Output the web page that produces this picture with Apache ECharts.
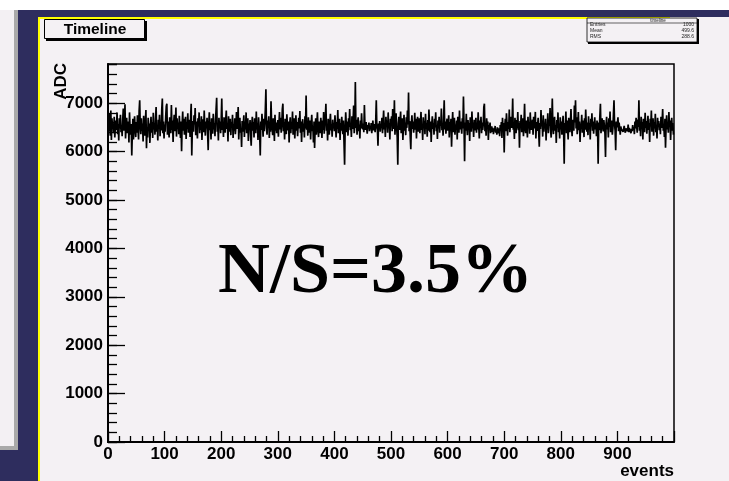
<!DOCTYPE html>
<html>
<head>
<meta charset="utf-8">
<script src="https://cdn.jsdelivr.net/npm/echarts@6/dist/echarts.min.js"></script>
<style>
  html, body { margin: 0; padding: 0; background: #f4f1f4; }
  #chart { width: 729px; height: 481px; }
</style>
</head>
<body>
<div id="chart"></div>
<script>
// ADC reading per event (one histogram bin per event)
const adcValues = [
  6610, 6420, 6780, 6550, 6330, 6850, 6240, 6690, 6470, 6580, 6380, 6720, 6290, 6510, 6640, 6450, 6810, 6360, 6570, 6230, 6690, 6480, 6760, 6400, 6550,
  6320, 6650, 6890, 6430, 6590, 6980, 6270, 6540, 6700, 6380, 6460, 6620, 6190, 6810, 6500, 6350, 6570, 5920, 6400, 6680, 6250, 6540, 6730, 6460, 6300,
  6610, 6390, 6750, 6480, 6250, 6840, 7060, 6520, 6360, 6690, 6430, 6580, 6210, 6740, 6470, 6330, 6620, 6860, 6070, 6510, 6290, 6700, 6440, 6580, 6180,
  6530, 6720, 6390, 6610, 6280, 6800, 6460, 6570, 6350, 6690, 6920, 6410, 6550, 6230, 6660, 6490, 6760, 6320, 6580, 6440, 6870, 7095, 6380, 6620, 6270,
  6560, 6410, 6730, 6940, 6990, 6350, 6620, 6480, 6290, 6710, 6530, 6380, 6960, 6450, 6640, 6200, 6580, 6760, 6420, 6550, 6910, 6310, 6690, 6470, 6600,
  6360, 6740, 6500, 6280, 6620, 6010, 6570, 6830, 6430, 6680, 6350, 6550, 6720, 6260, 6610, 6470, 6790, 6390, 6540, 6660, 6300, 6720, 6990, 5920, 6480,
  6630, 6410, 6750, 6560, 6900, 6340, 6620, 6470, 6270, 6690, 6520, 6810, 6380, 6600, 6450, 6730, 6240, 6580, 6670, 6400, 6850, 6510, 6330, 6620, 6480,
  6700, 6390, 6030, 6560, 6810, 6440, 6610, 6250, 6690, 6530, 6370, 6780, 6460, 6590, 6320, 6650, 6880, 7110, 6410, 6570, 6230, 6700, 6490, 6620, 6380,
  6640, 7095, 6450, 6580, 6300, 6710, 6520, 6390, 6660, 6850, 6470, 6590, 6210, 6730, 6410, 6550, 6680, 6340, 6610, 6490, 6760, 6280, 6570, 6430, 6690,
  6360, 6520, 6820, 6470, 6600, 6920, 6250, 6540, 6700, 6390, 6480, 6095, 6630, 6410, 6570, 6750, 6300, 6620, 6460, 6810, 6380, 6540, 6690, 6220, 6580,
  6470, 6650, 6340, 6120, 6560, 6720, 6430, 6610, 6290, 6690, 6520, 6380, 6830, 6460, 6590, 6240, 6710, 6500, 6360, 5920, 6620, 6450, 6780, 6550, 6310,
  6680, 6420, 6590, 6880, 7290, 6480, 6350, 6640, 6510, 6730, 6280, 6580, 6410, 7040, 6620, 6470, 6340, 6690, 6550, 6220, 6760, 6430, 6600, 6380, 6510,
  6650, 6310, 6570, 6820, 6460, 6700, 6390, 6540, 6880, 6990, 6420, 6610, 6250, 6680, 6500, 6360, 6770, 6530, 6440, 6620, 6190, 6560, 6710, 6380, 6600,
  6470, 6830, 6350, 6590, 6690, 6270, 6520, 6750, 6430, 6610, 6320, 6560, 6700, 6480, 6840, 6390, 6620, 6200, 6550, 6670, 6410, 6580, 6290, 6730, 6480,
  7160, 6450, 6600, 6330, 6710, 6520, 6390, 6640, 6250, 6580, 6760, 6420, 6530, 6190, 6620, 6075, 6480, 6690, 6350, 6570, 6810, 6460, 6300, 6620, 6540,
  6380, 6700, 6510, 6280, 6640, 6450, 6820, 6370, 6590, 6720, 6990, 6430, 6560, 6230, 6680, 6500, 6350, 6610, 6780, 6440, 6570, 6310, 6660, 6480, 6590,
  6420, 6750, 6530, 6290, 6610, 6470, 6860, 6380, 6550, 6680, 6240, 6590, 6430, 6720, 6510, 6360, 6640, 6180, 5730, 6470, 6810, 6560, 6400, 6620, 6330,
  6690, 6510, 6880, 6440, 6590, 6300, 6730, 6470, 6620, 6950, 6380, 6540, 7440, 6490, 6660, 6350, 6580, 6710, 6420, 6560, 6270, 6640, 6480, 6790, 6530,
  6460, 6580, 6400, 6960, 6520, 6450, 6610, 6490, 6370, 6550, 6480, 6600, 6420, 6530, 6460, 6590, 6380, 6510, 6640, 6440, 6570, 6490, 6400, 6620, 7060,
  6510, 6450, 6120, 6580, 6470, 6630, 6410, 6540, 6490, 6700, 6380, 6610, 6850, 6460, 6580, 6300, 6720, 6530, 6640, 6390, 6810, 6480, 6590, 6250, 6680,
  6550, 6730, 6420, 6880, 6600, 6470, 7060, 6350, 6640, 6790, 6510, 6290, 5730, 6580, 6720, 6450, 6610, 6830, 6380, 6550, 6690, 6240, 6520, 6760, 6430,
  6600, 6340, 6710, 6490, 6850, 6560, 7220, 6420, 6630, 6300, 6050, 6580, 6750, 6470, 6620, 6390, 6540, 6800, 6450, 6680, 6270, 6590, 6720, 6410, 6550,
  6690, 6380, 6600, 6820, 6450, 6570, 6240, 6710, 6520, 6630, 6360, 6780, 6480, 6590, 6310, 6650, 6430, 6870, 6540, 6400, 6620, 6200, 6560, 6730, 6470,
  6590, 6350, 6680, 6500, 6810, 6420, 6550, 6260, 6640, 6480, 6720, 6390, 6610, 6530, 6890, 6440, 6580, 6330, 6700, 7060, 6460, 6620, 6370, 6540, 6680,
  6430, 6570, 6750, 6290, 6610, 6480, 6680, 6100, 6530, 6820, 6400, 6590, 6700, 6350, 6560, 6470, 6640, 6250, 6720, 6510, 6390, 6850, 6460, 6620, 6540,
  6370, 6690, 6480, 7140, 6560, 5800, 6600, 6430, 6780, 6510, 6340, 6650, 6470, 6590, 6220, 6710, 6540, 6410, 6830, 6480, 6600, 6300, 6660, 6520, 6440,
  6700, 6390, 6580, 6460, 6810, 6530, 6270, 6640, 6490, 6720, 6380, 6600, 6450, 6560, 6920, 6990, 6420, 6580, 6330, 6690, 6510, 6620, 6240, 6550, 6470,
  6600, 6380, 6440, 6520, 6410, 6490, 6360, 6470, 6420, 6530, 6390, 6460, 6350, 6500, 6430, 6380, 6480, 6320, 6550, 6440, 6610, 6280, 6700, 6460, 6590,
  5980, 6520, 6680, 6420, 6790, 6560, 6330, 6610, 6470, 6870, 6400, 6580, 6720, 6490, 6630, 7095, 6450, 6560, 6260, 6700, 6530, 6380, 6650, 6480, 6820,
  6440, 6590, 6080, 6630, 6510, 6760, 6400, 6560, 6690, 6320, 6600, 6990, 6470, 6380, 6640, 6550, 6290, 6720, 6480, 6610, 6370, 6810, 6520, 6450, 6590,
  6660, 6350, 6720, 6480, 6580, 6820, 6270, 6610, 6430, 6540, 6700, 6390, 6100, 6590, 6470, 6860, 6520, 6640, 6310, 6750, 6410, 6580, 6490, 6680, 6230,
  6570, 6460, 6790, 6380, 6620, 6530, 6900, 6440, 6290, 6680, 7095, 6510, 6360, 6600, 6720, 6430, 6550, 6180, 6650, 6490, 6810, 6400, 6580, 6270, 6710,
  6460, 6620, 6350, 6560, 6740, 6420, 5750, 6590, 6510, 6830, 6380, 6640, 6470, 6250, 6700, 6540, 6400, 6610, 6880, 6490, 6320, 6660, 6570, 6430, 6950,
  6600, 7060, 6480, 6710, 6360, 6550, 6820, 6440, 6620, 6200, 6580, 6490, 6760, 6390, 6640, 6520, 6300, 6690, 6450, 6870, 6560, 6410, 6600, 6340, 6730,
  6480, 6590, 6250, 6680, 6520, 6790, 6430, 6620, 6370, 6550, 6710, 6460, 6580, 6320, 6640, 6490, 5750, 6600, 6440, 6730, 6990, 6380, 6570, 6690, 6510,
  6420, 6650, 6530, 6370, 5890, 6580, 6720, 6460, 6600, 6290, 6690, 6510, 6830, 6400, 6560, 6640, 6350, 6480, 6770, 7060, 6550, 6430, 6030, 6620, 6500,
  6580, 6710, 6420, 6600, 6490, 6350, 6520, 6460, 6430, 6500, 6410, 6470, 6530, 6440, 6390, 6480, 6450, 6510, 6420, 6560, 6400, 6490, 6460, 6530, 6380,
  6470, 6420, 6550, 6440, 6500, 6360, 6620, 6480, 6700, 6530, 6390, 6660, 6510, 7060, 6430, 6590, 6320, 6720, 6470, 6610, 6250, 6680, 6540, 6400, 6800,
  6490, 6630, 6370, 6560, 6740, 6450, 6590, 6200, 6680, 6520, 6850, 6410, 6570, 6690, 6330, 6610, 6480, 6780, 6400, 6550, 6270, 6700, 6510, 6630, 6440,
  6580, 6360, 6720, 6490, 6610, 6880, 6430, 6550, 6300, 6680, 6080, 6520, 6750, 6460, 6600, 6390, 6820, 6510, 6640, 6240, 6570, 6700, 6430, 6590, 6350
];

// Axis ranges and tick spacing
const eventRange = [0, 1000];
const eventStep = 100;
const adcRange = [0, 7810];
const adcMajorStep = 1000;
const adcMinorStep = 200;

// Statistics box rows
const statLabels = ['Entries', 'Mean', 'RMS'];
const statValues = ['1000', '499.6', '288.6'];

const titleText = 'Timeline';
const xTitle = 'events';
const yTitle = 'ADC';
const noteText = 'N/S=3.5%';

// Histogram outline: each bin starts at its event number; close the last bin at the range end
const histPoints = adcValues.map((v, i) => [i, v]);
histPoints.push([eventRange[1], adcValues[adcValues.length - 1]]);

const NAVY = '#2e2d5e';
const YELLOW = '#ffff00';
const PAPER = '#f4f1f4';
const FONT = 'Liberation Sans, Arial, sans-serif';
const labelFont = { fontFamily: FONT, fontWeight: 'bold', fontSize: 17, color: '#000' };
const plainNumber = v => String(Math.round(v));

const chart = echarts.init(document.getElementById('chart'), null, { renderer: 'canvas' });

const statRows = [];
statLabels.forEach((lab, k) => {
  const y = 25 + k * 6;
  statRows.push({ type: 'text', x: 590, y: y, silent: true,
    style: { text: lab, fontSize: 5, fontFamily: FONT, fill: '#222', align: 'left', verticalAlign: 'middle' } });
  statRows.push({ type: 'text', x: 694, y: y, silent: true,
    style: { text: statValues[k], fontSize: 5, fontFamily: FONT, fill: '#222', align: 'right', verticalAlign: 'middle' } });
});

chart.setOption({
  backgroundColor: PAPER,
  animation: false,
  grid: { left: 108, right: 55, top: 64, bottom: 39, show: true, borderColor: '#000', borderWidth: 1.5, backgroundColor: 'transparent' },
  xAxis: {
    type: 'value', min: eventRange[0], max: eventRange[1], interval: eventStep,
    axisLine: { lineStyle: { color: '#000', width: 2 } },
    axisTick: { inside: true, length: 11, lineStyle: { color: '#000', width: 1.3 } },
    minorTick: { show: true, splitNumber: 5, length: 6, lineStyle: { color: '#000', width: 1.3 } },
    axisLabel: Object.assign({ margin: 4, showMaxLabel: false, formatter: plainNumber }, labelFont),
    splitLine: { show: false }
  },
  yAxis: [
    {
      type: 'value', min: adcRange[0], max: adcRange[1], interval: adcMajorStep,
      axisLine: { show: true, lineStyle: { color: '#000', width: 2 } },
      axisTick: { show: true, inside: true, length: 17, lineStyle: { color: '#000', width: 1.3 } },
      axisLabel: Object.assign({ margin: 5, showMaxLabel: false, formatter: plainNumber }, labelFont),
      splitLine: { show: false }
    },
    {
      type: 'value', position: 'left', min: adcRange[0], max: adcRange[1], interval: adcMinorStep,
      axisLine: { show: false },
      axisTick: { show: true, inside: true, length: 9, lineStyle: { color: '#000', width: 1.3 } },
      axisLabel: { show: false },
      splitLine: { show: false }
    }
  ],
  series: [{
    type: 'line', step: 'end', data: histPoints, yAxisIndex: 0,
    showSymbol: false, symbol: 'none',
    lineStyle: { color: '#000', width: 1.7 }
  }],
  graphic: [
    // slide frame around the canvas
    { type: 'rect', shape: { x: 0, y: 0, width: 729, height: 10 }, style: { fill: '#ffffff' }, silent: true },
    { type: 'rect', shape: { x: 18, y: 10, width: 711, height: 7 }, style: { fill: NAVY }, silent: true },
    { type: 'rect', shape: { x: 0, y: 10, width: 14, height: 436 }, style: { fill: '#f3f0f3' }, silent: true },
    { type: 'rect', shape: { x: 14, y: 10, width: 4, height: 440 }, style: { fill: '#a9a9a9' }, silent: true },
    { type: 'rect', shape: { x: 0, y: 446, width: 18, height: 4 }, style: { fill: '#a9a9a9' }, silent: true },
    { type: 'rect', shape: { x: 18, y: 17, width: 20, height: 464 }, style: { fill: NAVY }, silent: true },
    { type: 'rect', shape: { x: 0, y: 450, width: 18, height: 31 }, style: { fill: NAVY }, silent: true },
    { type: 'rect', shape: { x: 38, y: 17, width: 2, height: 464 }, style: { fill: YELLOW }, silent: true },
    { type: 'rect', shape: { x: 38, y: 17, width: 632, height: 2 }, style: { fill: YELLOW }, silent: true },

    // title box with shadow
    { type: 'rect', shape: { x: 46, y: 21, width: 101, height: 20 }, style: { fill: '#000' }, silent: true },
    { type: 'rect', shape: { x: 44.5, y: 19.5, width: 100, height: 19 }, style: { fill: PAPER, stroke: '#000', lineWidth: 1 }, silent: true },
    { type: 'text', x: 95, y: 29.5, silent: true,
      style: { text: titleText, align: 'center', verticalAlign: 'middle', fontFamily: FONT, fontWeight: 'bold', fontSize: 15.5, fill: '#000' } },

    // statistics box
    { type: 'rect', shape: { x: 588, y: 19, width: 111, height: 25 }, style: { fill: '#000' }, silent: true },
    { type: 'rect', shape: { x: 587, y: 18, width: 110, height: 24 }, style: { fill: PAPER, stroke: '#000', lineWidth: 0.8 }, silent: true },
    { type: 'line', shape: { x1: 587, y1: 23, x2: 697, y2: 23 }, style: { stroke: '#000', lineWidth: 0.6 }, silent: true },
    { type: 'text', x: 658, y: 20.5, silent: true,
      style: { text: 'timeline', align: 'center', verticalAlign: 'middle', fontSize: 4.5, fontFamily: FONT, fill: '#222' } },
    ...statRows,

    // axis titles
    { type: 'text', x: 61, y: 63, rotation: Math.PI / 2, silent: true,
      style: { text: yTitle, align: 'right', verticalAlign: 'middle', fontFamily: FONT, fontWeight: 'bold', fontSize: 17, fill: '#000' } },
    { type: 'text', x: 674, y: 471.5, silent: true,
      style: { text: xTitle, align: 'right', verticalAlign: 'middle', fontFamily: FONT, fontWeight: 'bold', fontSize: 17, fill: '#000' } },

    // signal-to-noise note
    { type: 'text', x: 218, y: 273, silent: true,
      style: { text: noteText, align: 'left', verticalAlign: 'middle', fontFamily: 'Liberation Serif, Times New Roman, serif', fontWeight: 'bold', fontSize: 72, fill: '#000' } }
  ]
});
</script>
</body>
</html>
